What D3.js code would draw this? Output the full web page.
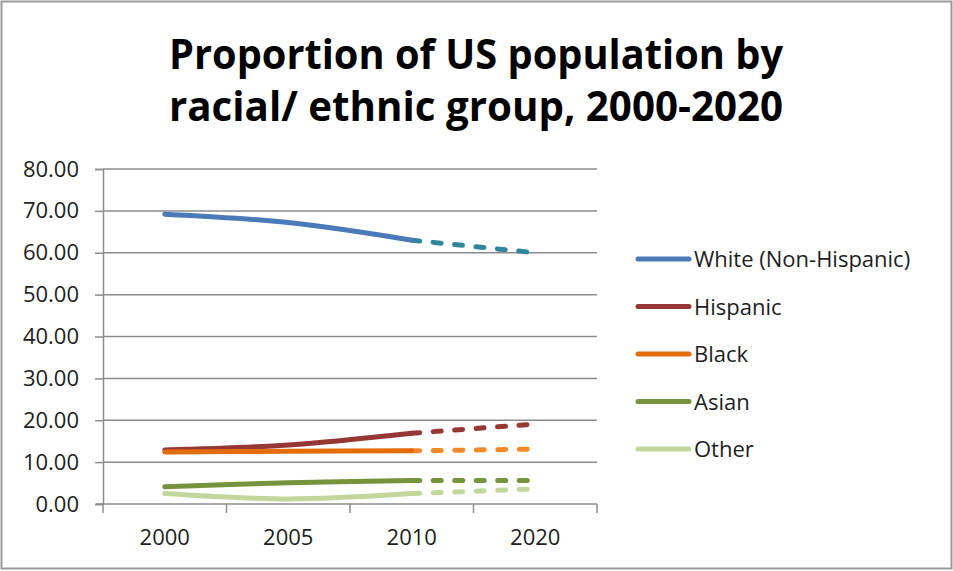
<!DOCTYPE html>
<html>
<head>
<meta charset="utf-8">
<script src="https://cdn.jsdelivr.net/npm/d3@7"></script>
<style>
	body{margin:0;background:#fff;}
	svg text{font-family:"Open Sans",sans-serif;fill:#1e1e1e;}
</style>
</head>
<body>
<div id="chart"></div>
<script>
// data (percent of population)
var categories = ["2000", "2005", "2010", "2020"];
var yTicks = [0, 10, 20, 30, 40, 50, 60, 70, 80];
var seriesNames = ["White (Non-Hispanic)", "Hispanic", "Black", "Asian", "Other"];
var white = [69.2, 67.2, 63.0, 60.0];
var hispanic = [12.9, 14.1, 16.9, 19.1];
var black = [12.4, 12.6, 12.7, 13.1];
var asian = [4.1, 5.1, 5.6, 5.6];
var other = [2.5, 1.2, 2.5, 3.6];
var titleLines = ["Proportion of US population by", "racial/ ethnic group, 2000-2020"];

var values = [white, hispanic, black, asian, other];
var solidColors = ["#4a7ab8", "#953735", "#e46c0a", "#77933c", "#c3d69b"];
var dashColors = ["#31869b", "#953735", "#f28a2a", "#77933c", "#c3d69b"];

var W = 953, H = 571;
var svg = d3.select("#chart").append("svg")
	.attr("width", W)
	.attr("height", H);

// outer frame
svg.append("rect")
	.attr("x", 1.5).attr("y", 1.5)
	.attr("width", W - 3).attr("height", H - 4)
	.attr("fill", "#fff")
	.attr("stroke", "#9a9a9a")
	.attr("stroke-width", 2);

// title
svg.selectAll("text.title").data(titleLines).enter().append("text")
	.attr("class", "title")
	.attr("x", 476)
	.attr("y", function(d, i){ return 69 + i * 52; })
	.attr("text-anchor", "middle")
	.attr("textLength", 614)
	.attr("lengthAdjust", "spacingAndGlyphs")
	.style("font-size", "42px")
	.style("font-weight", "700")
	.style("fill", "#000")
	.text(function(d){ return d; });

var x = d3.scaleBand().domain(categories).range([103, 597]).padding(0);
var y = d3.scaleLinear().domain([0, 80]).range([504, 169]);
var cx = function(i){ return x(categories[i]) + x.bandwidth() / 2; };

// gridlines
svg.append("g").selectAll("line").data(yTicks.slice(1)).enter().append("line")
	.attr("x1", 103).attr("x2", 597)
	.attr("y1", function(d){ return y(d); })
	.attr("y2", function(d){ return y(d); })
	.attr("stroke", "#8c8c8c")
	.attr("stroke-width", 1.5);

// y axis
var yAxis = svg.append("g")
	.attr("transform", "translate(103,0)")
	.call(d3.axisLeft(y).tickValues(yTicks).tickFormat(d3.format(".2f")).tickSize(8).tickPadding(16));
yAxis.select(".domain").attr("stroke", "#8c8c8c").attr("stroke-width", 1.5);
yAxis.selectAll(".tick line").attr("stroke", "#8c8c8c").attr("stroke-width", 1.5);
yAxis.selectAll(".tick text")
	.style("font-size", "22px")
	.style("font-family", "'Open Sans',sans-serif")
	.attr("fill", "#1e1e1e");

// x axis: labels in the band centres, ticks on the band edges
var xAxis = svg.append("g").attr("transform", "translate(0,504)");
xAxis.append("line")
	.attr("x1", 96).attr("x2", 597)
	.attr("stroke", "#8c8c8c").attr("stroke-width", 1.5);
var edges = categories.map(function(c){ return x(c); }).concat([x.range()[1]]);
xAxis.selectAll("line.tk").data(edges).enter().append("line")
	.attr("class", "tk")
	.attr("x1", function(d){ return d; }).attr("x2", function(d){ return d; })
	.attr("y1", 0).attr("y2", 9)
	.attr("stroke", "#8c8c8c").attr("stroke-width", 1.5);
xAxis.selectAll("text").data(categories).enter().append("text")
	.attr("x", function(d, i){ return cx(i); })
	.attr("y", 41)
	.attr("text-anchor", "middle")
	.style("font-size", "22px")
	.text(function(d){ return d; });

// series lines: solid for 2000-2010, dashed for 2010-2020
var line = d3.line()
	.x(function(d){ return cx(d.i); })
	.y(function(d){ return y(d.v); })
	.curve(d3.curveCardinal.tension(0));

var lines = svg.append("g");
values.forEach(function(vals, s){
	var pts = vals.map(function(v, i){ return {i: i, v: v}; });
	lines.append("path")
		.datum(pts.slice(2))
		.attr("d", line)
		.attr("fill", "none")
		.attr("stroke", dashColors[s])
		.attr("stroke-width", 5)
		.attr("stroke-linecap", "round")
		.attr("stroke-dasharray", "8,13.5");
	lines.append("path")
		.datum(pts.slice(0, 3))
		.attr("d", line)
		.attr("fill", "none")
		.attr("stroke", solidColors[s])
		.attr("stroke-width", 5)
		.attr("stroke-linecap", "round");
});

// legend
var legend = svg.append("g").selectAll("g").data(seriesNames).enter().append("g")
	.attr("transform", function(d, i){ return "translate(0," + (259 + i * 47.5) + ")"; });
legend.append("line")
	.attr("x1", 638).attr("x2", 689)
	.attr("stroke", function(d, i){ return solidColors[i]; })
	.attr("stroke-width", 5)
	.attr("stroke-linecap", "round");
legend.append("text")
	.attr("x", 694)
	.attr("y", 8)
	.style("font-size", "22px")
	.text(function(d){ return d; });
</script>
</body>
</html>
